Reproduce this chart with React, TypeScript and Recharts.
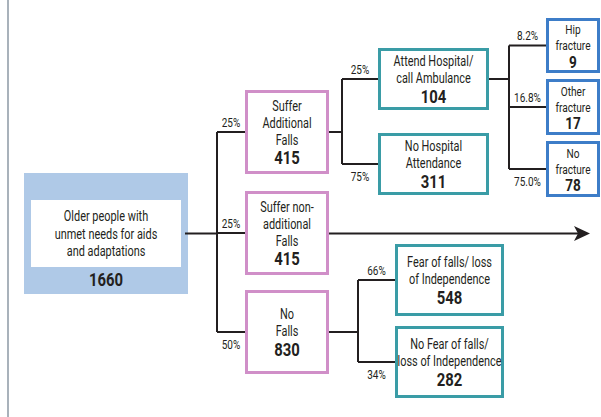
import { ComposedChart, XAxis, YAxis, Scatter, ReferenceArea, ReferenceLine } from 'recharts'

// tree content
const rootLines = ['Older people with', 'unmet needs for aids', 'and adaptations']
const rootCount = 1660

const fallLines = [['Suffer', 'Additional', 'Falls'], ['Suffer non-', 'additional', 'Falls'], ['No', 'Falls']]
const fallCounts = [415, 415, 830]
const fallPcts = ['25%', '25%', '50%']

const hospLines = [['Attend Hospital/', 'call Ambulance'], ['No Hospital', 'Attendance']]
const hospCounts = [104, 311]
const hospPcts = ['25%', '75%']

const fracLines = [['Hip', 'fracture'], ['Other', 'fracture'], ['No', 'fracture']]
const fracCounts = [9, 17, 78]
const fracPcts = ['8.2%', '16.8%', '75.0%']

const fearLines = [['Fear of falls/ loss', 'of Independence'], ['No Fear of falls/', 'loss of Independence']]
const fearCounts = [548, 282]
const fearPcts = ['66%', '34%']

// layout (diagram units)
const W = 601
const H = 417
const rootBox = { x0: 24, x1: 188, y0: 173, y1: 294 }
const rootInner = { x0: 31, x1: 181, y0: 200, y1: 267 }
const arrowEnd = 590
const fallCol = { spine: 217, x0: 245, x1: 329, rows: [[90, 174], [191, 275], [290, 374]] }
const hospCol = { spine: 342, x0: 378, x1: 489, rows: [[48, 110], [133, 195]] }
const fracCol = { spine: 509, x0: 546, x1: 600, rows: [[18, 73], [79, 135], [141, 197]] }
const fearCol = { spine: 358, x0: 395, x1: 504, rows: [[244, 316], [326, 398]] }

const PINK = '#d08fc8'
const TEAL = '#3a9ca6'
const BLUE = '#3d7dc8'
const INK = '#231f20'
const FONT = "Roboto, 'Open Sans', sans-serif"

type Style = { lh: number; ch: number; fs: number; cs: number }
type Node = { x0: number; x1: number; y0: number; y1: number; lines: string[]; count: number; color: string } & Style

const normal: Style = { lh: 17, ch: 19, fs: 14, cs: 17.5 }
const tight: Style = { lh: 16, ch: 15, fs: 13, cs: 16 }

const buildLevel = (col: typeof fallCol, lines: string[][], counts: number[], color: string, st = normal): Node[] =>
  col.rows.map((r, i) => ({ x0: col.x0, x1: col.x1, y0: r[0], y1: r[1], lines: lines[i], count: counts[i], color, ...st }))

const fallNodes = buildLevel(fallCol, fallLines, fallCounts, PINK)
const hospNodes = buildLevel(hospCol, hospLines, hospCounts, TEAL)
const fracNodes = buildLevel(fracCol, fracLines, fracCounts, BLUE, tight)
const fearNodes = buildLevel(fearCol, fearLines, fearCounts, TEAL)
const boxes = [...fallNodes, ...hospNodes, ...fracNodes, ...fearNodes]

const mid = (n: { y0: number; y1: number }) => (n.y0 + n.y1) / 2

// connectors: parent right edge -> spine, spine vertical, spine -> children
type Seg = [number, number, number, number]
const branch = (px: number, py: number, col: typeof fallCol, kids: Node[]): Seg[] => {
  const ys = kids.map(mid)
  return [
    [px, py, col.spine, py],
    [col.spine, Math.min(...ys), col.spine, Math.max(...ys)],
    ...ys.map((y) => [col.spine, y, col.x0, y] as Seg),
  ]
}
const rootY = mid(rootBox)
const segments: Seg[] = [
  ...branch(rootInner.x1 + 4, rootY, fallCol, fallNodes),
  [fallCol.x1, rootY, arrowEnd - 12, rootY],
  ...branch(fallCol.x1, mid(fallNodes[0]), hospCol, hospNodes),
  ...branch(hospCol.x1, mid(hospNodes[0]), fracCol, fracNodes),
  ...branch(fallCol.x1, mid(fallNodes[2]), fearCol, fearNodes),
]

// percentage labels sit between spine and box, above the branch (last one below)
const pctLabels = (col: typeof fallCol, kids: Node[], pcts: string[]) =>
  kids.map((k, i) => ({
    x: (col.spine + col.x0) / 2,
    y: i === kids.length - 1 ? mid(k) + 13 : mid(k) - 9,
    text: pcts[i],
  }))
const pctData = [
  ...pctLabels(fallCol, fallNodes, fallPcts),
  ...pctLabels(hospCol, hospNodes, hospPcts),
  ...pctLabels(fracCol, fracNodes, fracPcts),
  ...pctLabels(fearCol, fearNodes, fearPcts),
]

const textData = boxes.map((b) => ({ x: (b.x0 + b.x1) / 2, y: mid(b), lines: b.lines, count: b.count, lh: b.lh, ch: b.ch, fs: b.fs, cs: b.cs }))
const rootText = [{ x: (rootInner.x0 + rootInner.x1) / 2, y: mid(rootInner), count: rootCount, countY: (rootInner.y1 + rootBox.y1) / 2 }]

// condensed text: the source uses a narrow face, so squeeze horizontally
const CText = ({ x, y, size, bold, squeeze = 0.78, children }: any) => (
  <g transform={`translate(${x},${y}) scale(${squeeze},1)`}>
    <text
      x={0}
      y={0}
      textAnchor="middle"
      dominantBaseline="central"
      fontFamily={FONT}
      fontSize={size}
      fontWeight={bold ? 'bold' : 'normal'}
      fill={INK}
    >
      {children}
    </text>
  </g>
)

const BoxText = (props: any) => {
  const { cx, cy, payload } = props
  const { lines, count, lh, ch, fs, cs } = payload
  const top = cy - (lines.length * lh + ch) / 2
  return (
    <g>
      {lines.map((l: string, i: number) => (
        <CText key={i} x={cx} y={top + i * lh + lh / 2} size={fs}>
          {l}
        </CText>
      ))}
      <CText x={cx} y={top + lines.length * lh + ch / 2 + 1} size={cs} bold squeeze={0.85}>
        {count}
      </CText>
    </g>
  )
}

const RootText = (props: any) => {
  const { cx, cy, payload } = props
  const countY = cy + (payload.countY - payload.y)
  return (
    <g>
      {rootLines.map((l, i) => (
        <CText key={i} x={cx} y={cy + (i - 1) * 17.5} size={14}>
          {l}
        </CText>
      ))}
      <CText x={cx} y={countY} size={17.5} bold squeeze={0.85}>
        {payload.count}
      </CText>
    </g>
  )
}

const PctText = (props: any) => (
  <CText x={props.cx} y={props.cy} size={12.5} squeeze={0.8}>
    {props.payload.text}
  </CText>
)

const Arrow = (props: any) => {
  const { cx, cy } = props
  return <path d={`M${cx},${cy} L${cx - 16},${cy - 7.5} L${cx - 12},${cy} L${cx - 16},${cy + 7.5} Z`} fill={INK} />
}

export default function App() {
  return (
    <div style={{ position: 'absolute', left: 0, top: 0, width: W, height: H, background: '#fff' }}>
      <ComposedChart width={W} height={H} margin={{ top: 0, right: 0, bottom: 0, left: 0 }}>
        <XAxis type="number" dataKey="x" domain={[0, W]} hide allowDataOverflow />
        <YAxis type="number" dataKey="y" domain={[0, H]} reversed hide allowDataOverflow />
        <ReferenceLine x={8} stroke="#a9b2bb" strokeWidth={2} ifOverflow="visible" />
        <ReferenceArea x1={rootBox.x0} x2={rootBox.x1} y1={rootBox.y0} y2={rootBox.y1} fill="#afc9e7" fillOpacity={1} stroke="none" ifOverflow="visible" />
        <ReferenceArea x1={rootInner.x0} x2={rootInner.x1} y1={rootInner.y0} y2={rootInner.y1} fill="#fff" fillOpacity={1} stroke="none" ifOverflow="visible" />
        {segments.map((s, i) => (
          <ReferenceLine
            key={`s${i}`}
            segment={[{ x: s[0], y: s[1] }, { x: s[2], y: s[3] }]}
            stroke={INK}
            strokeWidth={2}
            ifOverflow="visible"
          />
        ))}
        {boxes.map((b, i) => (
          <ReferenceArea
            key={`b${i}`}
            x1={b.x0 + 1.5}
            x2={b.x1 - 1.5}
            y1={b.y0 + 1.5}
            y2={b.y1 - 1.5}
            fill="#fff"
            fillOpacity={1}
            stroke={b.color}
            strokeWidth={3}
            ifOverflow="visible"
          />
        ))}
        <Scatter data={textData} shape={BoxText} isAnimationActive={false} />
        <Scatter data={rootText} shape={RootText} isAnimationActive={false} />
        <Scatter data={pctData} shape={PctText} isAnimationActive={false} />
        <Scatter data={[{ x: arrowEnd, y: rootY }]} shape={Arrow} isAnimationActive={false} />
      </ComposedChart>
    </div>
  )
}
